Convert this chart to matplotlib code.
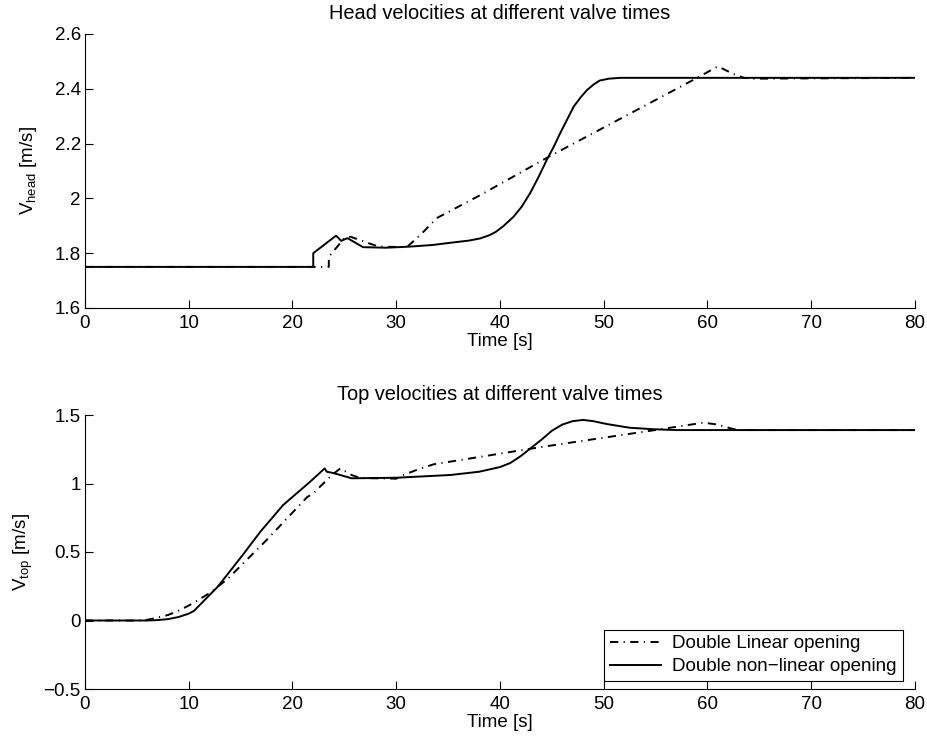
import matplotlib
matplotlib.use("Agg")
import matplotlib.pyplot as plt

plt.rcParams['font.family'] = ['Liberation Sans', 'DejaVu Sans']
plt.rcParams['mathtext.fontset'] = 'custom'
plt.rcParams['mathtext.rm'] = 'Liberation Sans'

# ---------------- data ----------------
# Top: head velocity
head_lin_t = [0, 23.5, 23.5, 25.0, 25.6, 27.3, 28.3, 31.0, 32.0, 32.8, 33.9,
              38.1, 44.7, 53.5, 59.0, 61.0, 62.5, 63.5, 64.5, 80]
head_lin_v = [1.75, 1.75, 1.787, 1.855, 1.86, 1.837, 1.824, 1.822, 1.855, 1.885, 1.928,
              2.012, 2.152, 2.329, 2.44, 2.482, 2.454, 2.44, 2.437, 2.44]

head_nl_t = [0, 22.0, 22.0, 24.2, 24.7, 25.3, 26.8, 29.0, 31.3, 33.5, 35.2, 37.0, 38.1,
             39.0, 39.6, 40.3, 41.3, 42.1, 42.9, 43.7, 44.5, 45.2, 45.8, 46.5, 47.1,
             47.8, 48.4, 49.0, 49.6, 50.5, 51.6, 53, 80]
head_nl_v = [1.75, 1.75, 1.80, 1.864, 1.845, 1.855, 1.822, 1.82, 1.824, 1.83, 1.838, 1.846, 1.854,
             1.866, 1.878, 1.898, 1.933, 1.97, 2.019, 2.077, 2.14, 2.19, 2.238, 2.29, 2.335,
             2.37, 2.396, 2.415, 2.43, 2.437, 2.44, 2.44, 2.44]

# Bottom: top velocity
top_lin_t = [0, 5.0, 6.0, 6.9, 8.0, 9.2, 10.5, 12.0, 13.7, 17.5, 21.4, 22.0, 23.8, 24.6,
             25.7, 26.5, 30.0, 30.7, 32.0, 33.6, 44.2, 54.5, 59.6, 61.0, 62.2, 63.0, 80]
top_lin_v = [0.0, 0.0, 0.005, 0.02, 0.04, 0.077, 0.13, 0.20, 0.30, 0.587, 0.90, 0.928, 1.062, 1.11,
             1.062, 1.04, 1.035, 1.062, 1.10, 1.14, 1.269, 1.385, 1.444, 1.43, 1.403, 1.39, 1.39]

top_nl_t = [0, 6.0, 7.0, 8.0, 9.0, 10.0, 10.5, 12.8, 15.2, 16.9, 19.1, 21.7, 23.1, 23.3,
            24.0, 25.7, 30.0, 35.2, 38.0, 40.0, 41.0, 42.0, 43.0, 44.0, 45.0, 46.0, 47.0,
            48.0, 49.0, 50.3, 52.5, 54.8, 57.0, 80]
top_nl_v = [0.0, 0.0, 0.003, 0.01, 0.025, 0.05, 0.07, 0.247, 0.478, 0.648, 0.843, 1.013, 1.11, 1.086,
            1.075, 1.038, 1.042, 1.062, 1.086, 1.12, 1.15, 1.20, 1.26, 1.32, 1.385, 1.43, 1.455,
            1.464, 1.455, 1.434, 1.407, 1.396, 1.39, 1.39]

x_ticks = [0, 10, 20, 30, 40, 50, 60, 70, 80]
head_yticks = [1.6, 1.8, 2.0, 2.2, 2.4, 2.6]
head_yticklabels = ['1.6', '1.8', '2', '2.2', '2.4', '2.6']
top_yticks = [-0.5, 0, 0.5, 1, 1.5]
top_yticklabels = ['\u22120.5', '0', '0.5', '1', '1.5']

# ---------------- figure ----------------
fig = plt.figure(figsize=(9.28, 7.41), dpi=100)
W, H = 928.0, 741.0
ax1 = fig.add_axes([85 / W, 1 - 308 / H, 830 / W, 274 / H])
ax2 = fig.add_axes([85 / W, 1 - 689 / H, 830 / W, 274 / H])

dash = (0, (4.2, 2.8, 0.6, 2.8))
fs = 13.5
tfs = 14.4

for ax in (ax1, ax2):
    ax.spines['top'].set_visible(False)
    ax.spines['right'].set_visible(False)
    ax.spines['left'].set_linewidth(0.8)
    ax.spines['bottom'].set_linewidth(0.8)
    ax.tick_params(direction='in', length=6, width=0.8, labelsize=fs, pad=3)
    ax.tick_params(axis='x', pad=5)
    ax.set_xlim(0, 80)
    ax.set_xticks(x_ticks)
    ax.set_xlabel('Time [s]', fontsize=fs, labelpad=1)

ax1.plot(head_lin_t, head_lin_v, color='black', lw=1.4, linestyle=dash)
ax1.plot(head_nl_t, head_nl_v, color='black', lw=1.4, linestyle='-')
ax1.set_ylim(1.6, 2.6)
ax1.set_yticks(head_yticks)
ax1.set_yticklabels(head_yticklabels)
ax1.set_ylabel(r'V$_\mathregular{head}$ [m/s]', fontsize=fs, labelpad=11)
ax1.set_title('Head velocities at different valve times', fontsize=tfs, pad=11)

l1, = ax2.plot(top_lin_t, top_lin_v, color='black', lw=1.4, linestyle=dash)
l2, = ax2.plot(top_nl_t, top_nl_v, color='black', lw=1.4, linestyle='-')
ax2.set_ylim(-0.5, 1.5)
ax2.set_yticks(top_yticks)
ax2.set_yticklabels(top_yticklabels)
ax2.set_ylabel(r'V$_\mathregular{top}$ [m/s]', fontsize=fs, labelpad=6)
ax2.set_title('Top velocities at different valve times', fontsize=tfs, pad=11)

leg = ax2.legend([l1, l2], ['Double Linear opening', 'Double non\u2212linear opening'],
                 loc='lower right', bbox_to_anchor=(0.985, 0.03), fontsize=fs,
                 frameon=True, fancybox=False, edgecolor='black', framealpha=1,
                 handlelength=2.75, handletextpad=0.6, borderpad=0.3, labelspacing=0.3,
                 borderaxespad=0)
leg.get_frame().set_linewidth(0.8)

fig.savefig('out.png', dpi=100, facecolor='white')
